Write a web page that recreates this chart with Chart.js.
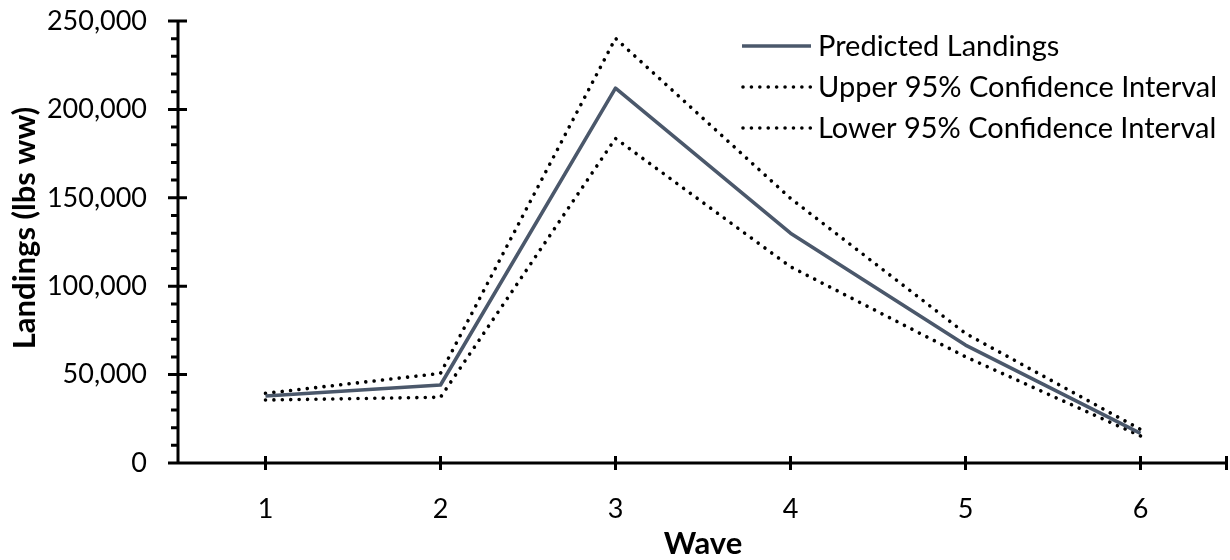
<!DOCTYPE html>
<html>
<head>
<meta charset="utf-8">
<script src="https://cdn.jsdelivr.net/npm/chart.js@4"></script>
<style>
html,body{margin:0;padding:0;background:#fff;}
#wrap{width:1230px;height:560px;position:relative;}
</style>
</head>
<body>
<div id="wrap"><canvas id="c" width="1230" height="560"></canvas></div>
<script>
const waves = ['1','2','3','4','5','6'];
const predicted = [37900, 44100, 212000, 130000, 66700, 16800];
const upper95 = [39400, 50700, 240200, 149700, 73300, 19000];
const lower95 = [35600, 37200, 183600, 111000, 60100, 15300];
const seriesLabels = ['Predicted Landings', 'Upper 95% Confidence Interval', 'Lower 95% Confidence Interval'];
const yTicks = [0, 50000, 100000, 150000, 200000, 250000];
const xTitle = 'Wave';
const yTitle = 'Landings (lbs ww)';

const FONT = 'Lato, "Open Sans", sans-serif';
const TICK_SIZE = 27;
const LEGEND_SIZE = 29;
const TITLE_SIZE = 31;
const LINE_COLOR = '#4B586B';

const axesPlugin = {
  id: 'axesPlugin',
  afterDatasetsDraw(chart) {
    const ctx = chart.ctx, x = chart.scales.x, y = chart.scales.y;
    const ca = chart.chartArea;
    ctx.save();
    ctx.strokeStyle = '#000';
    ctx.lineWidth = 3;
    ctx.lineCap = 'butt';
    ctx.beginPath();
    ctx.moveTo(ca.left, y.getPixelForValue(250000) - 1);
    ctx.lineTo(ca.left, y.getPixelForValue(0));
    ctx.moveTo(ca.left - 10, y.getPixelForValue(0));
    ctx.lineTo(ca.right, y.getPixelForValue(0));
    for (const v of yTicks) {
      const py = y.getPixelForValue(v);
      ctx.moveTo(ca.left - 10, py);
      ctx.lineTo(ca.left + 9, py);
    }
    for (let v = 10000; v < 250000; v += 10000) {
      if (v % 50000 === 0) continue;
      const py = y.getPixelForValue(v);
      ctx.moveTo(ca.left - 7, py);
      ctx.lineTo(ca.left, py);
    }
    const y0 = y.getPixelForValue(0);
    for (let i = 0; i < waves.length; i++) {
      const px = x.getPixelForValue(i);
      ctx.moveTo(px, y0 - 7);
      ctx.lineTo(px, y0 + 7);
    }
    ctx.moveTo(ca.right - 1.5, y0 - 7);
    ctx.lineTo(ca.right - 1.5, y0 + 7);
    ctx.stroke();

    // axis titles
    ctx.fillStyle = '#000';
    ctx.font = 'bold ' + TITLE_SIZE + 'px ' + FONT;
    ctx.textAlign = 'center';
    ctx.textBaseline = 'middle';
    ctx.fillText(xTitle, (ca.left + ca.right) / 2, 544);
    ctx.save();
    ctx.translate(25, 228);
    ctx.rotate(-Math.PI / 2);
    ctx.fillText(yTitle, 0, 0);
    ctx.restore();
    ctx.restore();
  }
};

const legendPlugin = {
  id: 'customLegend',
  afterDraw(chart) {
    const ctx = chart.ctx;
    const rows = [46, 87, 128];
    ctx.save();
    chart.data.datasets.forEach((ds, i) => {
      const ry = rows[i];
      ctx.beginPath();
      ctx.strokeStyle = ds.borderColor;
      ctx.lineWidth = ds.borderWidth;
      ctx.lineCap = ds.borderCapStyle || 'butt';
      ctx.setLineDash(ds.borderDash || []);
      ctx.moveTo(i === 0 ? 742 : 743, ry);
      ctx.lineTo(811, ry);
      ctx.stroke();
      ctx.setLineDash([]);
      ctx.fillStyle = '#000';
      ctx.font = LEGEND_SIZE + 'px ' + FONT;
      ctx.textBaseline = 'middle';
      ctx.textAlign = 'left';
      ctx.fillText(ds.label, 818, ry + 1);
    });
    ctx.restore();
  }
};

new Chart(document.getElementById('c'), {
  type: 'line',
  data: {
    labels: waves,
    datasets: [
      { label: seriesLabels[0], data: predicted, borderColor: LINE_COLOR, borderWidth: 3.6, pointRadius: 0, tension: 0, fill: false, borderJoinStyle: 'round' },
      { label: seriesLabels[1], data: upper95, borderColor: '#000', borderWidth: 3.6, borderDash: [0.01, 8.4], borderCapStyle: 'round', pointRadius: 0, tension: 0, fill: false },
      { label: seriesLabels[2], data: lower95, borderColor: '#000', borderWidth: 3.6, borderDash: [0.01, 8.4], borderCapStyle: 'round', pointRadius: 0, tension: 0, fill: false }
    ]
  },
  options: {
    responsive: false,
    animation: false,
    devicePixelRatio: 1,
    layout: { padding: { top: 21, right: 2, left: 0, bottom: 0 } },
    plugins: { legend: { display: false }, tooltip: { enabled: false } },
    scales: {
      x: {
        type: 'category',
        offset: true,
        grid: { display: false, drawTicks: false },
        border: { display: false },
        ticks: { color: '#000', font: { family: FONT, size: TICK_SIZE }, padding: 30, maxRotation: 0 },
        afterFit(scale) { scale.height = 560 - 463; scale.paddingLeft = 0; scale.paddingRight = 0; }
      },
      y: {
        min: 0, max: 250000,
        afterBuildTicks(scale) { scale.ticks = yTicks.map(v => ({ value: v })); },
        grid: { display: false, drawTicks: false },
        border: { display: false },
        ticks: { color: '#000', font: { family: FONT, size: TICK_SIZE }, padding: 31,
          callback: (v) => v.toLocaleString('en-US') },
        afterFit(scale) { scale.width = 178; scale.paddingTop = 0; scale.paddingBottom = 0; }
      }
    }
  },
  plugins: [axesPlugin, legendPlugin]
});
</script>
</body>
</html>
